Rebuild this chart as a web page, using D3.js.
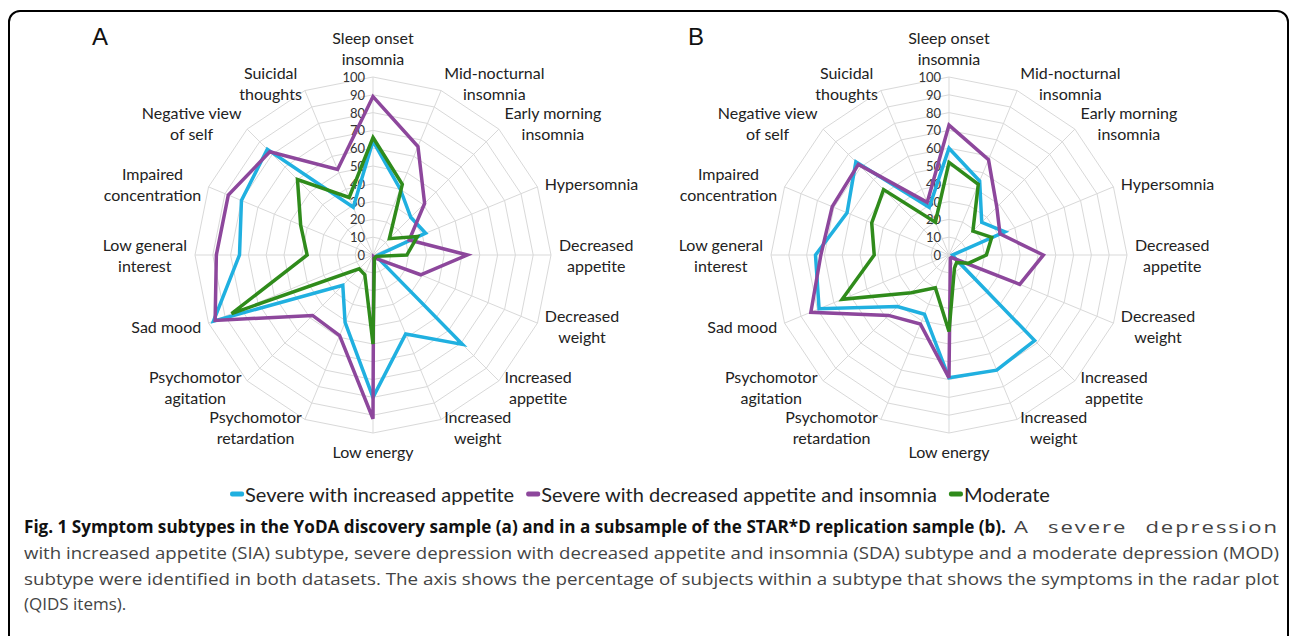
<!DOCTYPE html>
<html>
<head>
<meta charset="utf-8">
<script src="https://cdn.jsdelivr.net/npm/d3@7"></script>
<style>
  body { margin: 0; background: #fff; }
  svg { display: block; }
</style>
</head>
<body>
<svg id="fig" width="1290" height="636"></svg>
<script>
// QIDS items, clockwise from the top
const symptoms = [
  "Sleep onset\ninsomnia", "Mid-nocturnal\ninsomnia", "Early morning\ninsomnia", "Hypersomnia",
  "Decreased\nappetite", "Decreased\nweight", "Increased\nappetite", "Increased\nweight",
  "Low energy", "Psychomotor\nretardation", "Psychomotor\nagitation", "Sad mood",
  "Low general\ninterest", "Impaired\nconcentration", "Negative view\nof self", "Suicidal\nthoughts"
];
const ticks = [0, 10, 20, 30, 40, 50, 60, 70, 80, 90, 100];

const seriesNames = ["Severe with increased appetite", "Severe with decreased appetite and insomnia", "Moderate"];
const seriesColors = ["#20b0e0", "#8d479c", "#2f8b1b"];

// panel A - YoDA (% of subjects)
const siaA = [64, 40, 30, 32, 3, 2, 71, 48, 80, 41, 24, 97, 75, 80, 84, 29];
const sdaA = [89, 66, 41, 22, 53, 29, 3, 1, 92, 49, 48, 96, 88, 88, 82, 52];
const modA = [66, 43, 13, 27, 19, 2, 2, 2, 50, 12, 11, 86, 37, 44, 60, 35];

// panel B - STAR*D subsample
const siaB = [60, 45, 26, 34, 2, 3, 68, 70, 69, 36, 41, 79, 75, 62, 74, 29];
const sdaB = [73, 58, 38, 31, 53, 43, 2, 2, 69, 42, 48, 84, 72, 71, 72, 32];
const modB = [52, 43, 19, 26, 21, 12, 6, 8, 43, 20, 30, 65, 42, 47, 52, 20];

const svg = d3.select("#fig");
const labelFont = "Lato, 'Open Sans', sans-serif";

// rounded frame, bottom runs off the page
svg.append("rect")
  .attr("x", 9).attr("y", 11)
  .attr("width", 1279).attr("height", 720)
  .attr("rx", 11)
  .attr("fill", "none")
  .attr("stroke", "#000")
  .attr("stroke-width", 2);

function radar(cx, cy, letter, letterX, series) {
  const g = svg.append("g").attr("transform", `translate(${cx},${cy})`);
  const r = d3.scaleLinear().domain([0, 100]).range([0, 178]);
  const angle = d3.scaleBand().domain(symptoms).range([0, 2 * Math.PI]);

  const ring = d3.lineRadial()
    .angle(d => angle(d))
    .curve(d3.curveLinearClosed);

  // web rings
  ticks.slice(1).forEach(t => {
    g.append("path")
      .attr("d", ring.radius(r(t))(symptoms))
      .attr("fill", "none")
      .attr("stroke", "#d9d9d9")
      .attr("stroke-width", 1);
  });

  // spokes
  g.selectAll(".spoke")
    .data(symptoms)
    .enter()
    .append("line")
    .attr("x2", d => Math.sin(angle(d)) * r(100))
    .attr("y2", d => -Math.cos(angle(d)) * r(100))
    .attr("stroke", "#d9d9d9")
    .attr("stroke-width", 1);

  // value ticks along the top spoke
  g.selectAll(".tick")
    .data(ticks)
    .enter()
    .append("text")
    .attr("x", -8)
    .attr("y", d => -r(d))
    .attr("text-anchor", "end")
    .attr("dominant-baseline", "central")
    .style("font-family", labelFont)
    .style("font-size", "13px")
    .attr("fill", "#333")
    .text(d => d);

  // series, drawn in legend order
  const line = d3.lineRadial()
    .angle((d, i) => angle(symptoms[i]))
    .radius(d => r(d))
    .curve(d3.curveLinearClosed);

  series.forEach((vals, k) => {
    g.append("path")
      .attr("d", line(vals))
      .attr("fill", "none")
      .attr("stroke", seriesColors[k])
      .attr("stroke-width", 3.5)
      .attr("stroke-linejoin", "miter");
  });

  // category labels outside the web
  const pad = r(100) + 8, lh = 21;
  symptoms.forEach(s => {
    const a = angle(s);
    const sx = Math.sin(a), px = sx * pad, py = -Math.cos(a) * pad;
    const lines = s.split("\n");
    let y0;
    if (Math.abs(sx) < 0.01 && py < 0) y0 = py - (lines.length - 0.5) * lh;
    else if (Math.abs(sx) < 0.01) y0 = py + lh / 2;
    else y0 = py - (lines.length - 1) * lh / 2;
    const anchor = Math.abs(sx) < 0.01 ? "middle" : (sx > 0 ? "start" : "end");

    const t = g.append("text")
      .attr("text-anchor", "middle")
      .style("font-family", labelFont)
      .style("font-size", "16px")
      .attr("fill", "#222");
    lines.forEach((ln, i) => {
      t.append("tspan")
        .attr("y", y0 + i * lh)
        .attr("dominant-baseline", "central")
        .text(ln);
    });
    // widest line decides where the centred block sits
    const w = d3.max(t.selectAll("tspan").nodes(), n => n.getComputedTextLength());
    const xc = anchor === "middle" ? px : (anchor === "start" ? px + w / 2 : px - w / 2);
    t.selectAll("tspan").attr("x", xc);
  });

  svg.append("text")
    .attr("x", letterX).attr("y", 45)
    .style("font-family", "'Liberation Sans', Arial, sans-serif")
    .style("font-size", "24px")
    .attr("fill", "#111")
    .text(letter);
}

radar(373, 255, "A", 92, [siaA, sdaA, modA]);
radar(949, 255, "B", 688, [siaB, sdaB, modB]);

// legend, centred under both panels
const legend = svg.append("g");
let lx = 0;
seriesNames.forEach((name, i) => {
  const it = legend.append("g");
  it.append("rect")
    .attr("x", 0).attr("y", -2.5)
    .attr("width", 14).attr("height", 5)
    .attr("rx", 2)
    .attr("fill", seriesColors[i]);
  const txt = it.append("text")
    .attr("x", 15)
    .attr("dominant-baseline", "central")
    .style("font-family", labelFont)
    .style("font-size", "20px")
    .attr("fill", "#222")
    .text(name);
  const w = 15 + txt.node().getComputedTextLength();
  it.attr("transform", `translate(${lx},0)`);
  lx += w + 12;
});
legend.attr("transform", `translate(${640 - (lx - 12) / 2},494)`);

// caption
const capX = 24, capW = 1255;
const caption = svg.append("g")
  .style("font-family", "'Open Sans', 'Noto Sans', sans-serif")
  .style("font-size", "17px");

// bold title squeezed like the journal's condensed face
caption.append("text")
  .attr("x", capX).attr("y", 533)
  .attr("textLength", 982)
  .attr("lengthAdjust", "spacingAndGlyphs")
  .style("font-weight", "bold")
  .attr("fill", "#111")
  .text("Fig. 1 Symptom subtypes in the YoDA discovery sample (a) and in a subsample of the STAR*D replication sample (b).");

// rest of the first line is justified out to the right margin
caption.append("text")
  .attr("x", 1014).attr("y", 533)
  .style("letter-spacing", "1.5px")
  .style("word-spacing", "8px")
  .attr("textLength", capX + capW - 1014)
  .attr("lengthAdjust", "spacingAndGlyphs")
  .attr("fill", "#444")
  .text("A severe depression");

const capLines = [
  "with increased appetite (SIA) subtype, severe depression with decreased appetite and insomnia (SDA) subtype and a moderate depression (MOD)",
  "subtype were identified in both datasets. The axis shows the percentage of subjects within a subtype that shows the symptoms in the radar plot",
  "(QIDS items)."
];
capLines.forEach((s, i) => {
  const t = caption.append("text")
    .attr("x", capX).attr("y", 559 + i * 25.7)
    .attr("fill", "#444")
    .text(s);
  if (i < capLines.length - 1) t.attr("textLength", capW).attr("lengthAdjust", "spacingAndGlyphs");
});
</script>
</body>
</html>
